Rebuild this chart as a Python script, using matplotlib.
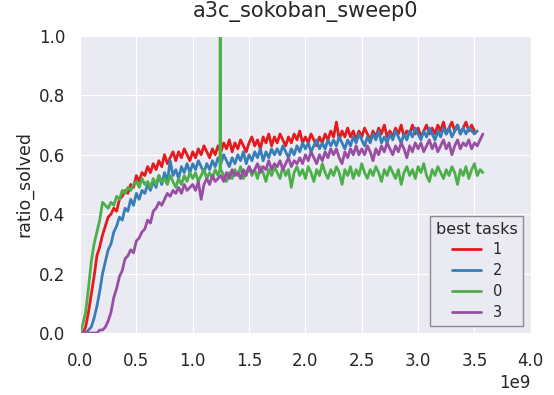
import numpy as np
import matplotlib
matplotlib.use('Agg')
import matplotlib.pyplot as plt
import seaborn as sns

# logging interval of the runs (frames)
step = 0.025e9

# ratio_solved per task, one value per logging step (10 steps per row)
task1 = [0.00, 0.00, 0.02, 0.07, 0.13, 0.19, 0.26, 0.29, 0.33, 0.36,
         0.39, 0.40, 0.42, 0.41, 0.45, 0.46, 0.48, 0.47, 0.50, 0.49,
         0.53, 0.51, 0.54, 0.53, 0.56, 0.54, 0.57, 0.55, 0.58, 0.56,
         0.60, 0.57, 0.59, 0.61, 0.58, 0.61, 0.59, 0.62, 0.60, 0.58,
         0.61, 0.59, 0.62, 0.60, 0.63, 0.61, 0.59, 0.62, 0.60, 0.63,
         0.61, 0.64, 0.62, 0.65, 0.61, 0.64, 0.62, 0.65, 0.63, 0.61,
         0.64, 0.66, 0.63, 0.65, 0.62, 0.66, 0.64, 0.67, 0.63, 0.66,
         0.64, 0.67, 0.65, 0.63, 0.66, 0.64, 0.67, 0.65, 0.68, 0.64,
         0.66, 0.64, 0.67, 0.65, 0.63, 0.66, 0.64, 0.67, 0.65, 0.68,
         0.66, 0.71, 0.65, 0.68, 0.66, 0.69, 0.66, 0.68, 0.65, 0.68,
         0.66, 0.69, 0.67, 0.65, 0.68, 0.66, 0.69, 0.67, 0.70, 0.66,
         0.68, 0.66, 0.69, 0.67, 0.70, 0.66, 0.68, 0.67, 0.70, 0.67,
         0.69, 0.66, 0.68, 0.70, 0.67, 0.69, 0.67, 0.70, 0.68, 0.71,
         0.67, 0.69, 0.71, 0.68, 0.70, 0.67, 0.69, 0.71, 0.68, 0.70,
         0.68]
task2 = [0.00, 0.00, 0.00, 0.01, 0.02, 0.05, 0.09, 0.14, 0.20, 0.24,
         0.28, 0.30, 0.34, 0.36, 0.39, 0.38, 0.42, 0.41, 0.45, 0.43,
         0.47, 0.45, 0.48, 0.47, 0.50, 0.48, 0.51, 0.49, 0.53, 0.50,
         0.54, 0.51, 0.58, 0.53, 0.55, 0.52, 0.56, 0.54, 0.57, 0.54,
         0.57, 0.55, 0.58, 0.56, 0.54, 0.57, 0.55, 0.58, 0.56, 0.59,
         0.57, 0.60, 0.58, 0.56, 0.59, 0.57, 0.60, 0.58, 0.61, 0.57,
         0.60, 0.58, 0.61, 0.59, 0.62, 0.58, 0.61, 0.59, 0.62, 0.60,
         0.62, 0.60, 0.63, 0.61, 0.59, 0.62, 0.60, 0.63, 0.61, 0.64,
         0.62, 0.64, 0.61, 0.63, 0.65, 0.62, 0.64, 0.62, 0.65, 0.63,
         0.65, 0.63, 0.66, 0.64, 0.62, 0.65, 0.63, 0.66, 0.64, 0.67,
         0.65, 0.63, 0.66, 0.64, 0.67, 0.65, 0.68, 0.64, 0.66, 0.64,
         0.67, 0.65, 0.68, 0.66, 0.64, 0.67, 0.65, 0.68, 0.66, 0.69,
         0.67, 0.65, 0.68, 0.66, 0.69, 0.67, 0.65, 0.68, 0.66, 0.69,
         0.67, 0.69, 0.66, 0.68, 0.70, 0.67, 0.69, 0.67, 0.69, 0.68,
         0.67, 0.68]
task0 = [0.00, 0.03, 0.07, 0.15, 0.24, 0.30, 0.34, 0.38, 0.44, 0.43,
         0.42, 0.44, 0.43, 0.46, 0.45, 0.48, 0.47, 0.49, 0.48, 0.50,
         0.51, 0.49, 0.52, 0.50, 0.51, 0.49, 0.52, 0.50, 0.53, 0.51,
         0.52, 0.50, 0.53, 0.51, 0.49, 0.52, 0.50, 0.53, 0.51, 0.54,
         0.52, 0.54, 0.51, 0.53, 0.55, 0.52, 0.54, 0.52, 0.55, 0.53,
         0.55, 0.53, 0.51, 0.54, 0.52, 0.55, 0.53, 0.56, 0.52, 0.54,
         0.56, 0.53, 0.55, 0.52, 0.56, 0.54, 0.51, 0.55, 0.53, 0.56,
         0.54, 0.52, 0.56, 0.53, 0.55, 0.49, 0.54, 0.56, 0.53, 0.55,
         0.52, 0.56, 0.54, 0.51, 0.55, 0.53, 0.57, 0.54, 0.52, 0.55,
         0.53, 0.56, 0.54, 0.50, 0.55, 0.53, 0.56, 0.52, 0.55, 0.53,
         0.57, 0.54, 0.52, 0.55, 0.53, 0.56, 0.54, 0.51, 0.55, 0.53,
         0.56, 0.54, 0.52, 0.55, 0.50, 0.54, 0.56, 0.53, 0.55, 0.52,
         0.56, 0.54, 0.57, 0.53, 0.51, 0.55, 0.53, 0.56, 0.54, 0.52,
         0.55, 0.53, 0.56, 0.54, 0.50, 0.55, 0.53, 0.56, 0.52, 0.55,
         0.57, 0.53, 0.55, 0.54]
task3 = [0.00, 0.00, 0.00, 0.00, 0.00, 0.00, 0.00, 0.01, 0.01, 0.02,
         0.04, 0.07, 0.12, 0.15, 0.19, 0.21, 0.25, 0.26, 0.28, 0.27,
         0.31, 0.32, 0.34, 0.35, 0.38, 0.37, 0.41, 0.42, 0.44, 0.43,
         0.45, 0.47, 0.46, 0.48, 0.47, 0.49, 0.47, 0.50, 0.48, 0.49,
         0.50, 0.48, 0.51, 0.45, 0.50, 0.52, 0.50, 0.53, 0.51, 0.52,
         0.53, 0.51, 0.54, 0.52, 0.55, 0.53, 0.54, 0.52, 0.55, 0.53,
         0.56, 0.54, 0.55, 0.57, 0.54, 0.56, 0.55, 0.58, 0.55, 0.57,
         0.56, 0.58, 0.55, 0.57, 0.59, 0.56, 0.58, 0.57, 0.59, 0.57,
         0.60, 0.58, 0.61, 0.59, 0.57, 0.60, 0.58, 0.61, 0.59, 0.62,
         0.60, 0.62, 0.59, 0.57, 0.61, 0.59, 0.62, 0.60, 0.63, 0.60,
         0.62, 0.60, 0.63, 0.61, 0.58, 0.62, 0.60, 0.63, 0.61, 0.64,
         0.62, 0.60, 0.63, 0.61, 0.64, 0.62, 0.59, 0.63, 0.61, 0.64,
         0.62, 0.64, 0.61, 0.63, 0.65, 0.62, 0.64, 0.61, 0.63, 0.65,
         0.62, 0.64, 0.60, 0.63, 0.65, 0.62, 0.64, 0.63, 0.65, 0.62,
         0.64, 0.63, 0.65, 0.67]

# one bad evaluation of task 0
spike_x = [1.242e9, 1.245e9, 1.248e9]
spike_y = [0.55, 1.90, 0.55]

sns.set_style('darkgrid')
plt.rcParams['font.family'] = ['DejaVu Sans']
colors = sns.color_palette('Set1')

fig = plt.figure(figsize=(5.54, 3.95), dpi=100)
ax = fig.add_axes([0.1444, 0.157, 0.8137, 0.752])

series = [('1', task1, colors[0]), ('2', task2, colors[1]),
          ('0', task0, colors[2]), ('3', task3, colors[3])]
for name, vals, color in series:
    x = np.arange(len(vals)) * step
    y = np.array(vals)
    if name == '0':
        x = np.concatenate([x, spike_x])
        y = np.concatenate([y, spike_y])
        order = np.argsort(x, kind='stable')
        x, y = x[order], y[order]
    ax.plot(x, y, color=color, linewidth=2.0, label=name)

ax.set_xlim(0, 4e9)
ax.set_ylim(0, 1)
ax.set_xticks(np.arange(0, 4.01e9, 0.5e9))
ax.set_yticks(np.arange(0, 1.01, 0.2))
ax.tick_params(labelsize=12, colors='0.15')
ax.tick_params(axis='x', pad=10)
ax.tick_params(axis='y', pad=7)
ax.xaxis.get_offset_text().set_fontsize(12)
ax.set_ylabel('ratio_solved', fontsize=12.5, color='0.15')
ax.set_title('a3c_sokoban_sweep0', fontsize=15, color='0.15', pad=14)

leg = ax.legend(title='best tasks', loc='lower right', fontsize=10.5,
                title_fontsize=11.5, frameon=True, fancybox=False,
                facecolor='#EAEAF2', edgecolor='0.55', framealpha=1,
                labelspacing=0.4)
leg.get_frame().set_linewidth(1.0)

fig.savefig('out.png', dpi=100)
